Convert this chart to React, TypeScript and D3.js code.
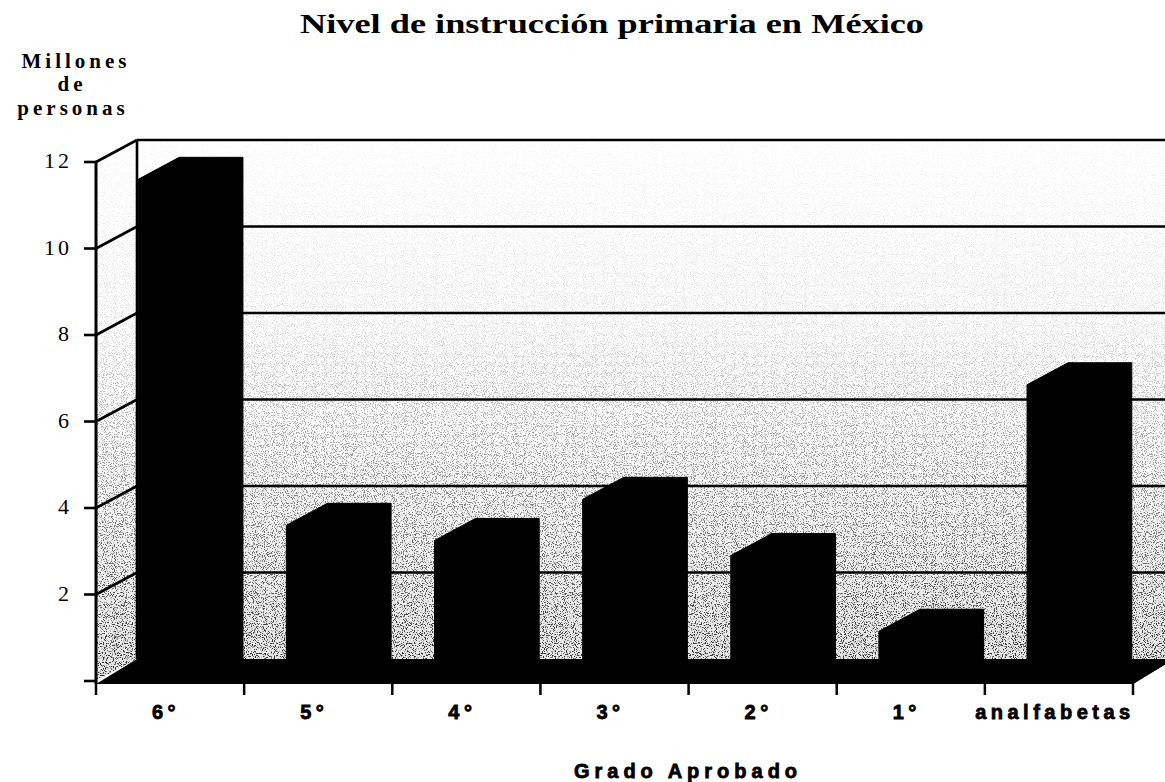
import React, { useRef, useEffect } from "react";
import * as d3 from "d3";

// values (millions of people)
const categories = ["6°", "5°", "4°", "3°", "2°", "1°", "analfabetas"];
const millions = [11.6, 3.6, 3.25, 4.2, 2.9, 1.15, 6.85];
const yTicks = [0, 2, 4, 6, 8, 10, 12];
const yTickLabels = ["", "2", "4", "6", "8", "10", "12"];

const W = 1165;
const H = 782;
const DX = 41; // depth offset of the 3d box
const DY = -22;

function App() {
  const svgRef = useRef<SVGSVGElement>(null);

  useEffect(() => {
    document.body.style.margin = "0";
    const svg = d3.select(svgRef.current);
    svg.selectAll("*").remove();

    const x = d3.scaleBand().domain(categories).range([96, 1133]).padding(0);
    const y = d3.scaleLinear().domain([0, 12]).range([681, 162]);
    const barW = x.bandwidth() * 0.43;
    const x0 = x.range()[0];
    const x1 = x.range()[1];
    const line = d3.line();

    const defs = svg.append("defs");
    const grad = defs.append("linearGradient").attr("id", "wallGrad")
      .attr("gradientUnits", "userSpaceOnUse")
      .attr("x1", 0).attr("y1", y(12) + DY).attr("x2", 0).attr("y2", y(0));
    grad.append("stop").attr("offset", 0).attr("stop-color", "#ffffff");
    grad.append("stop").attr("offset", 0.5).attr("stop-color", "#fcfcfc");
    grad.append("stop").attr("offset", 1).attr("stop-color", "#e6e6e6");

    const mgrad = defs.append("linearGradient").attr("id", "maskGrad")
      .attr("gradientUnits", "userSpaceOnUse")
      .attr("x1", 0).attr("y1", y(12) + DY).attr("x2", 0).attr("y2", y(0));
    mgrad.append("stop").attr("offset", 0).attr("stop-color", "#fff").attr("stop-opacity", 0.02);
    mgrad.append("stop").attr("offset", 0.35).attr("stop-color", "#fff").attr("stop-opacity", 0.12);
    mgrad.append("stop").attr("offset", 0.7).attr("stop-color", "#fff").attr("stop-opacity", 0.5);
    mgrad.append("stop").attr("offset", 1).attr("stop-color", "#fff").attr("stop-opacity", 0.85);
    defs.append("mask").attr("id", "speckMask")
      .append("rect").attr("x", 0).attr("y", 0).attr("width", W).attr("height", H)
      .attr("fill", "url(#maskGrad)");

    const filt = defs.append("filter").attr("id", "speck")
      .attr("filterUnits", "userSpaceOnUse")
      .attr("x", 0).attr("y", 0).attr("width", W).attr("height", H);
    filt.append("feTurbulence").attr("type", "fractalNoise")
      .attr("baseFrequency", 0.9).attr("numOctaves", 1).attr("seed", 7).attr("result", "noise");
    filt.append("feColorMatrix").attr("in", "noise").attr("type", "matrix")
      .attr("values", "0 0 0 0 0  0 0 0 0 0  0 0 0 0 0  10 0 0 0 -5.3").attr("result", "dots");
    filt.append("feComposite").attr("in", "dots").attr("in2", "SourceAlpha").attr("operator", "in");

    // walls (back + left)
    const wallPts = [
      [x0, y(0)], [x0, y(12)], [x0 + DX, y(12) + DY], [W + 5, y(12) + DY],
      [W + 5, y(0) + DY], [x0 + DX, y(0) + DY],
    ] as [number, number][];
    svg.append("path").attr("d", line(wallPts) + "Z").attr("fill", "url(#wallGrad)");
    svg.append("g").attr("mask", "url(#speckMask)")
      .append("path").attr("d", line(wallPts) + "Z")
      .attr("fill", "#000").attr("filter", "url(#speck)");

    // gridlines on back wall and left wall
    const grid = svg.append("g").attr("stroke", "#000").attr("stroke-width", 2.6).attr("fill", "none");
    yTicks.filter(t => t > 0).forEach(t => {
      grid.append("line").attr("x1", x0 + DX).attr("x2", W + 5)
        .attr("y1", y(t) + DY).attr("y2", y(t) + DY);
      grid.append("line").attr("x1", x0).attr("x2", x0 + DX)
        .attr("y1", y(t)).attr("y2", y(t) + DY);
    });
    grid.append("line").attr("x1", x0 + DX).attr("x2", x0 + DX)
      .attr("y1", y(12) + DY).attr("y2", y(0) + DY);

    // floor
    svg.append("path")
      .attr("d", line([[x0, y(0) + 3], [x0 + DX, y(0) + DY], [x1 + DX, y(0) + DY],
        [x1, y(0) + 3]] as [number, number][]) + "Z")
      .attr("fill", "#000");
    svg.append("path")
      .attr("d", line([[x1, y(0) + 3], [x1, y(0) + DY], [x1 + DX, y(0) + DY]] as [number, number][]) + "Z")
      .attr("fill", "#000");

    // bars
    svg.append("g").selectAll("path").data(categories).join("path")
      .attr("d", (c, i) => {
        const bx0 = (x(c) as number) + (x.bandwidth() - barW) / 2;
        const bx1 = bx0 + barW;
        const yt = y(millions[i]);
        const yb = y(0);
        return line([[bx0, yb], [bx0, yt], [bx0 + DX, yt + DY], [bx1 + DX, yt + DY],
          [bx1 + DX, yb + DY], [bx1, yb]] as [number, number][]) + "Z";
      })
      .attr("fill", "#000")
      .attr("stroke", "#000")
      .attr("stroke-width", 1)
      .attr("stroke-linejoin", "round");

    // front y axis
    svg.append("line").attr("x1", x0).attr("x2", x0).attr("y1", y(12)).attr("y2", y(0) + 3)
      .attr("stroke", "#000").attr("stroke-width", 3);
    const yAx = svg.append("g");
    yTicks.forEach((t, i) => {
      yAx.append("line").attr("x1", x0 - 12).attr("x2", x0).attr("y1", y(t)).attr("y2", y(t))
        .attr("stroke", "#000").attr("stroke-width", 2.6);
      if (yTickLabels[i]) {
        yAx.append("text").attr("x", 72).attr("y", y(t) + 6)
          .attr("text-anchor", "end")
          .attr("font-family", "'Liberation Serif', serif")
          .attr("font-size", 22)
          .attr("letter-spacing", 3)
          .text(yTickLabels[i]);
      }
    });

    // x ticks at band edges
    const edges = categories.map(c => x(c) as number).concat([x1]);
    svg.append("g").selectAll("line").data(edges).join("line")
      .attr("x1", d => d).attr("x2", d => d)
      .attr("y1", y(0) + 2).attr("y2", y(0) + 14)
      .attr("stroke", "#000").attr("stroke-width", 2.5);
    svg.append("g").selectAll("text").data(categories).join("text")
      .attr("x", c => (x(c) as number) + x.bandwidth() / 2 - 4)
      .attr("y", 719)
      .attr("text-anchor", "middle")
      .attr("font-family", "'Liberation Sans', sans-serif")
      .attr("font-weight", "bold")
      .attr("font-size", 20)
      .attr("letter-spacing", 4.5)
      .attr("stroke", "#000")
      .attr("stroke-width", 0.8)
      .text(c => c);

    // titles
    svg.append("text").attr("x", 612).attr("y", 33).attr("text-anchor", "middle")
      .attr("font-family", "'Liberation Serif', serif").attr("font-weight", "bold")
      .attr("font-size", 27).attr("textLength", 624).attr("lengthAdjust", "spacingAndGlyphs")
      .text("Nivel de instrucción primaria en México");

    const yl = svg.append("text").attr("text-anchor", "middle")
      .attr("font-family", "'Liberation Serif', serif").attr("font-weight", "bold")
      .attr("font-size", 21).attr("letter-spacing", 4);
    yl.append("tspan").attr("x", 76).attr("y", 68).text("Millones");
    yl.append("tspan").attr("x", 72).attr("y", 91).text("de");
    yl.append("tspan").attr("x", 73).attr("y", 115).text("personas");

    svg.append("text").attr("x", 688).attr("y", 778).attr("text-anchor", "middle")
      .attr("font-family", "'Liberation Sans', sans-serif").attr("font-weight", "bold")
      .attr("font-size", 20).attr("letter-spacing", 5)
      .attr("stroke", "#000").attr("stroke-width", 0.8)
      .text("Grado Aprobado");
  }, []);

  return (
    <svg ref={svgRef} width={W} height={H} style={{ display: "block", background: "#fff" }} />
  );
}

export default App;
